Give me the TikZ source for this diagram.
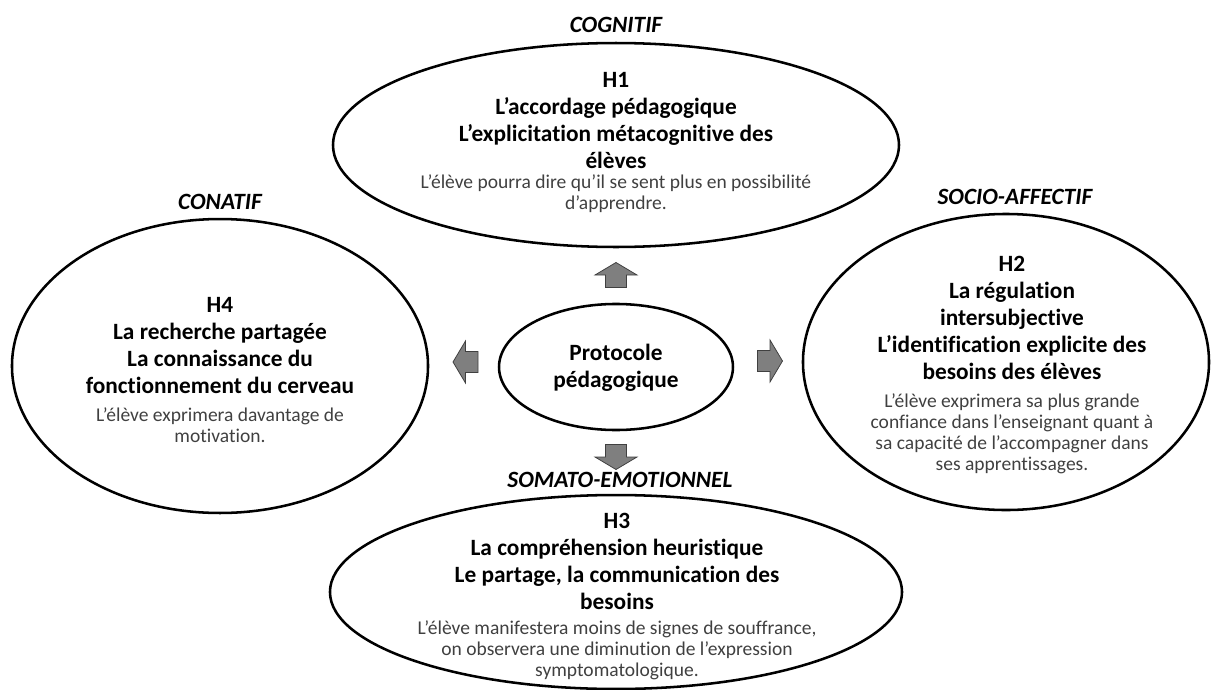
\documentclass[tikz,border=0pt]{standalone}
\usepackage{fontspec}
\setmainfont{Carlito}[Ligatures=NoCommon]
\usetikzlibrary{shapes.geometric}
\definecolor{arrowgray}{HTML}{7F7F7F}
\definecolor{notegray}{HTML}{404040}
\begin{document}
\begin{tikzpicture}[
  x=0.63pt, y=-0.63pt,
  hyp/.style = {shape=ellipse, draw, line width=1.6pt, inner sep=0pt},
  head/.style = {align=center, inner sep=0pt,
    font=\fontsize{14.7}{17}\selectfont\bfseries},
  note/.style = {align=center, inner sep=0pt, text=notegray,
    font=\fontsize{12.3}{13.3}\selectfont},
  facet/.style = {inner sep=0pt, font=\fontsize{14.7}{17}\selectfont\bfseries\itshape},
  blockarrow/.pic = {
    \draw[fill=arrowgray, draw=black!75, line width=0.5pt]
      (-12.5,-10.5) -- (0,-10.5) -- (0,-21) -- (12.5,0)
      -- (0,21) -- (0,10.5) -- (-12.5,10.5) -- cycle;
  }
  ]
  \useasboundingbox (0,0) rectangle (1211,690);

  % the four hypotheses
  \node[hyp, minimum width=356.6pt, minimum height=128.5pt] (h1) at (616,145) {};
  \node[hyp, minimum width=262.1pt, minimum height=185.2pt] (h4) at (220,366) {};
  \node[hyp, minimum width=255.8pt, minimum height=186.5pt] (h2) at (1006,362) {};
  \node[hyp, minimum width=360.4pt, minimum height=122.2pt] (h3) at (616,592) {};
  \node[hyp, minimum width=147.4pt, minimum height=79.4pt] (proto) at (616,367) {};

  \node[head] (h1-head) at (616,120.5)
    {H1\\L’accordage pédagogique\\L’explicitation métacognitive des\\élèves};
  \node[note] (h1-note) at (616,194)
    {L’élève pourra dire qu’il se sent plus en possibilité\\d’apprendre.};

  \node[head] (h4-head) at (220,345.5)
    {H4\\La recherche partagée\\La connaissance du\\fonctionnement du cerveau};
  \node[note] (h4-note) at (220,425)
    {L’élève exprimera davantage de\\motivation.};

  \node[head] (h2-head) at (1012,318)
    {H2\\La régulation\\intersubjective\\L’identification explicite des\\besoins des élèves};
  \node[note] (h2-note) at (1012,434)
    {L’élève exprimera sa plus grande\\confiance dans l’enseignant quant à\\sa capacité de l’accompagner dans\\ses apprentissages.};

  \node[head] (h3-head) at (617,561)
    {H3\\La compréhension heuristique\\Le partage, la communication des\\besoins};
  \node[note] (h3-note) at (617,650)
    {L’élève manifestera moins de signes de souffrance,\\on observera une diminution de l’expression\\symptomatologique.};

  \node[head] (proto-text) at (616,367.5) {Protocole\\pédagogique};

  % dimensions
  \node[facet] (cognitif) at (616,25) {COGNITIF};
  \node[facet] (conatif) at (220,202) {CONATIF};
  \node[facet] (socio) at (1015,197) {SOCIO-AFFECTIF};
  \node[facet] (somato) at (620,480) {SOMATO-EMOTIONNEL};

  % block arrows
  \pic[rotate=90] at (616,275) {blockarrow};
  \pic[rotate=180] at (465.5,362) {blockarrow};
  \pic at (770,361) {blockarrow};
  \pic[rotate=-90] at (616,457) {blockarrow};
\end{tikzpicture}
\end{document}
